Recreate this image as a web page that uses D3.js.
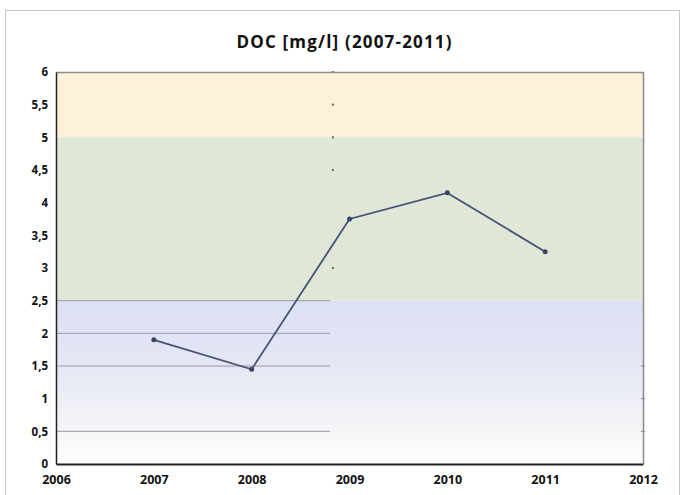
<!DOCTYPE html>
<html>
<head>
<meta charset="utf-8">
<script src="https://cdn.jsdelivr.net/npm/d3@7"></script>
<style>
  body { margin: 0; background: #fff; }
  text { font-family: "Liberation Sans Narrow", "Open Sans", "Noto Sans", sans-serif; font-weight: bold; fill: #111; }
</style>
</head>
<body>
<div id="chart-area"></div>
<script>
// data
var years = [2007, 2008, 2009, 2010, 2011];
var doc = [1.9, 1.45, 3.75, 4.15, 3.25];
var yTicks = [0, 0.5, 1, 1.5, 2, 2.5, 3, 3.5, 4, 4.5, 5, 5.5, 6];
var xTicks = [2006, 2007, 2008, 2009, 2010, 2011, 2012];
var bands = [
  {from: 5, to: 6, color: "#fdf1d8"},
  {from: 2.5, to: 5, color: "#dfe7d7"}
];
var gridVals = [0.5, 1.5, 2, 2.5];
var dotVals = [3, 4.5, 5, 5.5, 6];
var rightTicks = [0.5, 1, 1.5];

var W = 685, H = 495;
var margin = {top: 72, right: 42, bottom: 31, left: 56};
var width = W - margin.left - margin.right,
    height = H - margin.top - margin.bottom;

var svg = d3.select("#chart-area").append("svg")
    .attr("width", W)
    .attr("height", H);

// outer frame
svg.append("rect")
    .attr("x", 5.5).attr("y", 10.5)
    .attr("width", 674).attr("height", 490)
    .attr("fill", "#fff")
    .attr("stroke", "#c8c8c8");

svg.append("text")
    .attr("x", 344).attr("y", 48)
    .attr("text-anchor", "middle")
    .style("font-size", "17px")
    .attr("textLength", 215)
    .text("DOC [mg/l] (2007-2011)");

var g = svg.append("g")
    .attr("transform", "translate(" + margin.left + "," + margin.top + ")");

var x = d3.scaleLinear().domain([2006, 2012]).range([0, width]);
var y = d3.scaleLinear().domain([0, 6]).range([height, 0]);

// blue fading band
var defs = svg.append("defs");
var grad = defs.append("linearGradient")
    .attr("id", "blueFade")
    .attr("x1", 0).attr("y1", 0).attr("x2", 0).attr("y2", 1);
grad.append("stop").attr("offset", "0%").attr("stop-color", "#dbe0f3");
grad.append("stop").attr("offset", "40%").attr("stop-color", "#e4e7f4");
grad.append("stop").attr("offset", "80%").attr("stop-color", "#f6f6f8");
grad.append("stop").attr("offset", "100%").attr("stop-color", "#ffffff");

g.append("rect")
    .attr("x", 0).attr("y", y(2.5))
    .attr("width", width).attr("height", y(0) - y(2.5))
    .attr("fill", "url(#blueFade)");

g.selectAll(".band").data(bands).enter().append("rect")
    .attr("class", "band")
    .attr("x", 0)
    .attr("y", function(d) { return y(d.to); })
    .attr("width", width)
    .attr("height", function(d) { return y(d.from) - y(d.to); })
    .attr("fill", function(d) { return d.color; });

// partial gridlines
g.selectAll(".grid").data(gridVals).enter().append("line")
    .attr("class", "grid")
    .attr("x1", 0).attr("x2", x(2008.8))
    .attr("y1", function(d) { return y(d); })
    .attr("y2", function(d) { return y(d); })
    .attr("stroke", "#9a9aa6")
    .attr("stroke-width", 1);

// stray dots of a hidden axis
g.selectAll(".sdot").data(dotVals).enter().append("rect")
    .attr("class", "sdot")
    .attr("x", x(2008.83) - 1)
    .attr("y", function(d) { return y(d) - 1; })
    .attr("width", 2).attr("height", 2)
    .attr("fill", "#666");

g.selectAll(".rtick").data(rightTicks).enter().append("line")
    .attr("class", "rtick")
    .attr("x1", width - 2).attr("x2", width + 2)
    .attr("y1", function(d) { return y(d); })
    .attr("y2", function(d) { return y(d); })
    .attr("stroke", "#888");

// top and right border
g.append("path")
    .attr("d", "M0,0.5H" + (width + 0.5) + "V" + height)
    .attr("fill", "none")
    .attr("stroke", "#8c8c8c")
    .attr("stroke-width", 1.5);

// axes
var fmt = function(d) { return String(d).replace(".", ","); };
var yAxis = d3.axisLeft(y).tickValues(yTicks).tickSize(0).tickPadding(8).tickFormat(fmt);
var xAxis = d3.axisBottom(x).tickValues(xTicks).tickSize(0).tickPadding(11).tickFormat(d3.format("d"));

var ya = g.append("g").attr("class", "y-axis").call(yAxis);
var xa = g.append("g").attr("class", "x-axis")
    .attr("transform", "translate(0," + height + ")")
    .call(xAxis);

ya.select(".domain").attr("stroke", "#222").attr("stroke-width", 1.5);
xa.select(".domain").attr("stroke", "#222").attr("stroke-width", 2);
ya.selectAll("text").style("font-size", "11.5px").style("font-family", null);
xa.selectAll("text").style("font-size", "12.5px").style("font-family", null);

// data line
var pts = years.map(function(yr, i) { return [yr, doc[i]]; });
var line = d3.line()
    .x(function(d) { return x(d[0]); })
    .y(function(d) { return y(d[1]); });

g.append("path")
    .datum(pts)
    .attr("d", line)
    .attr("fill", "none")
    .attr("stroke", "#4a5078")
    .attr("stroke-width", 1.8);

g.selectAll(".pt").data(pts).enter().append("circle")
    .attr("class", "pt")
    .attr("cx", function(d) { return x(d[0]); })
    .attr("cy", function(d) { return y(d[1]); })
    .attr("r", 2.5)
    .attr("fill", "#3d4266");
</script>
</body>
</html>
